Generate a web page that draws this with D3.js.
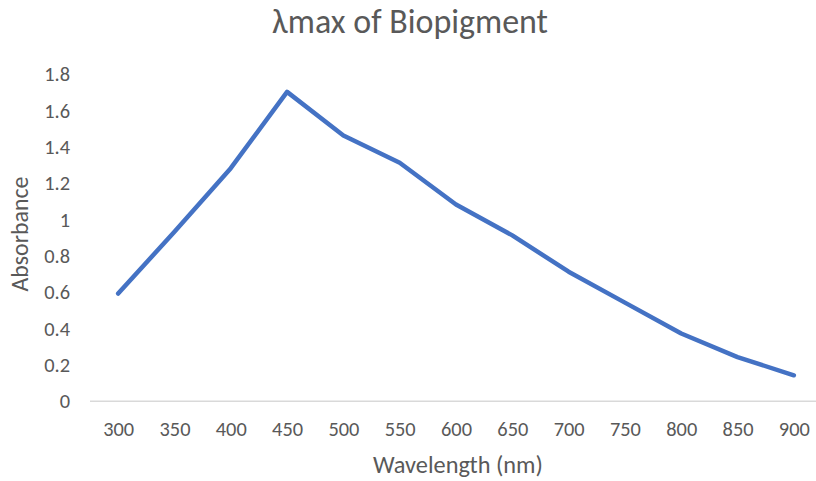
<!DOCTYPE html>
<html>
<head>
<meta charset="utf-8">
<script src="https://cdn.jsdelivr.net/npm/d3@7"></script>
<style>
  html, body { margin: 0; padding: 0; background: #fff; }
  svg { display: block; }
  text { font-family: Carlito, Calibri, Lato, "Open Sans", sans-serif; fill: #595959; }
</style>
</head>
<body>
<svg id="chart" width="816" height="481"></svg>
<script>
const categories = ["300","350","400","450","500","550","600","650","700","750","800","850","900"];
const absorbance = [0.59, 0.93, 1.28, 1.70, 1.46, 1.31, 1.08, 0.91, 0.71, 0.54, 0.37, 0.24, 0.14];
const yTicks = [0, 0.2, 0.4, 0.6, 0.8, 1, 1.2, 1.4, 1.6, 1.8];
const titleText = "λmax of Biopigment";
const xTitle = "Wavelength (nm)";
const yTitle = "Absorbance";

const svg = d3.select("#chart");
const W = 816, H = 481;
svg.append("rect").attr("width", W).attr("height", H).attr("fill", "#fff");

const plot = { left: 90, right: 822, top: 73.7, bottom: 400.7 };

const x = d3.scalePoint().domain(categories).range([plot.left, plot.right]).padding(0.5);
const y = d3.scaleLinear().domain([0, 1.8]).range([plot.bottom, plot.top]);

// fit a text element's font size to a target width, return the size
function fitSize(sel, targetW, base) {
  sel.style("font-size", base + "px");
  const w = sel.node().getComputedTextLength();
  const s = w > 0 ? base * targetW / w : base;
  sel.style("font-size", s + "px");
  return s;
}

// baseline (category axis line)
const xAxis = d3.axisBottom(x).tickSize(0).tickPadding(0);
const gx = svg.append("g").attr("transform", `translate(0,${plot.bottom})`).call(xAxis);
gx.attr("font-family", null).attr("font-size", null);
gx.select(".domain").attr("d", `M${plot.left},0.5H${plot.right}`).attr("stroke", "#d9d9d9").attr("stroke-width", 1.5);
const xLabels = gx.selectAll(".tick text")
  .attr("y", 0).attr("dy", 0)
  .attr("transform", "translate(0,35.5)")
  .attr("fill", "#595959");
const tickSize = fitSize(d3.select(xLabels.nodes()[0]), 31, 18);
xLabels.style("font-size", tickSize + "px");

// y axis labels (no line, no ticks)
const yAxis = d3.axisLeft(y).tickValues(yTicks).tickSize(0).tickPadding(0).tickFormat(d3.format("~g"));
const gy = svg.append("g").attr("transform", `translate(70,0)`).call(yAxis);
gy.attr("font-family", null).attr("font-size", null);
gy.select(".domain").remove();
gy.selectAll(".tick text")
  .attr("x", 0).attr("dy", "0.35em")
  .style("font-size", tickSize + "px")
  .attr("fill", "#595959");
svg.selectAll(".tick line").remove();

// line
const line = d3.line()
  .x((d, i) => x(categories[i]))
  .y(d => y(d));
svg.append("path")
  .datum(absorbance)
  .attr("d", line)
  .attr("fill", "none")
  .attr("stroke", "#4472C4")
  .attr("stroke-width", 4.5)
  .attr("stroke-linejoin", "round")
  .attr("stroke-linecap", "round");

// titles
const t = svg.append("text").attr("x", 410).attr("y", 33).attr("text-anchor", "middle").text(titleText);
fitSize(t, 276, 24);

const xt = svg.append("text").attr("x", 458).attr("y", 473).attr("text-anchor", "middle").text(xTitle);
fitSize(xt, 170, 18);

const yt = svg.append("text").attr("transform", "translate(28,234) rotate(-90)").attr("text-anchor", "middle").text(yTitle);
fitSize(yt, 115, 18);
</script>
</body>
</html>
